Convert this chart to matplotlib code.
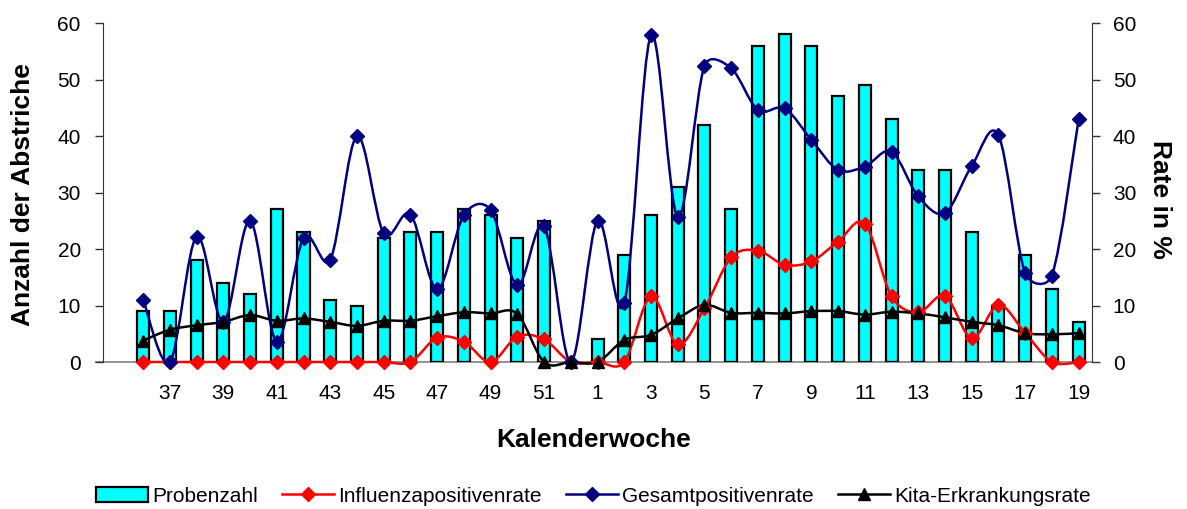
import matplotlib
matplotlib.use('Agg')
import matplotlib.pyplot as plt
from matplotlib.path import Path
from matplotlib.patches import PathPatch, Patch
from matplotlib.lines import Line2D
import numpy as np

plt.rcParams['font.family'] = ['Liberation Sans', 'DejaVu Sans']

# Kalenderwochen 36..52, 1..19
WEEKS = list(range(36, 53)) + list(range(1, 20))

# Anzahl der Abstriche (bars, left axis)
PROBENZAHL = [9, 9, 18, 14, 12, 27, 23, 11, 10, 22, 23, 23, 27, 26, 22, 25, 0,
              4, 19, 26, 31, 42, 27, 56, 58, 56, 47, 49, 43, 34, 34, 23, 10, 19, 13, 7]

# Rates in % (right axis)
INFLUENZA = [0, 0, 0, 0, 0, 0, 0, 0, 0, 0, 0, 4.3, 3.6, 0, 4.5, 4.0, 0,
             0, 0, 11.6, 3.1, 9.5, 18.5, 19.7, 17.2, 17.8, 21.3, 24.5, 11.6, 8.8, 11.7, 4.2, 10.1, 5.1, 0, 0]
GESAMT = [11.0, 0, 22.2, 7.1, 25.0, 3.6, 21.9, 18.1, 40.0, 22.8, 26.1, 12.9, 26.0, 26.9, 13.6, 24.0, 0,
          25.0, 10.4, 57.8, 25.7, 52.4, 52.0, 44.6, 44.9, 39.3, 34.0, 34.6, 37.2, 29.3, 26.4, 34.7, 40.1, 15.7, 15.3, 43.0]
KITA = [3.8, 5.7, 6.5, 7.1, 8.3, 7.3, 7.7, 7.1, 6.4, 7.3, 7.3, 8.1, 8.8, 8.6, 8.5, 0, 0,
        0, 3.9, 4.8, 7.7, 10.1, 8.7, 8.7, 8.6, 9.0, 9.0, 8.4, 8.9, 8.6, 7.9, 7.1, 6.5, 5.1, 4.9, 5.1]

CYAN = '#00FFFF'
RED = '#FF0000'
NAVY = '#000080'

AX_RECT = [0.0868, 0.2888, 0.8332, 0.666]
FIG_W, FIG_H = 1187, 509


def smooth_path(x, y, sx, sy, k=0.5):
    # Bezier path through the points, roughly like Excel's smoothed lines.
    # Control points worked out in pixel space, then mapped back to data.
    pts = np.column_stack([np.asarray(x) * sx, np.asarray(y) * sy]).astype(float)
    ext = np.vstack([pts[0], pts, pts[-1]])
    verts = [pts[0]]
    codes = [Path.MOVETO]
    for i in range(1, len(ext) - 2):
        p0, p1, p2, p3 = ext[i - 1], ext[i], ext[i + 1], ext[i + 2]
        chord = np.hypot(*(p2 - p1))
        t1 = p2 - p0
        t2 = p3 - p1
        n1 = np.hypot(*t1)
        n2 = np.hypot(*t2)
        c1 = p1 + t1 / n1 * min(k * chord, n1 / 6) if n1 > 0 else p1
        c2 = p2 - t2 / n2 * min(k * chord, n2 / 6) if n2 > 0 else p2
        verts += [c1, c2, p2]
        codes += [Path.CURVE4] * 3
    verts = np.array(verts) / [sx, sy]
    return Path(verts, codes)


fig = plt.figure(figsize=(FIG_W / 100, FIG_H / 100), dpi=100)
ax = fig.add_axes(AX_RECT)

x = np.arange(len(WEEKS))
ax.bar(x, PROBENZAHL, width=0.45, color=CYAN, edgecolor='black', linewidth=1.6, zorder=2)
ax.set_xlim(-1.5, len(WEEKS) - 0.5)
ax.set_ylim(0, 60)
ax.set_yticks(range(0, 61, 10))
ax.set_xticks(x[1::2])
ax.set_xticklabels([str(w) for w in WEEKS[1::2]])
ax.tick_params(axis='x', length=0, pad=16, labelsize=15)
ax.tick_params(axis='y', direction='out', length=6, width=1, labelsize=15, pad=10,
               color='#333333')
for s in ['top', 'right']:
    ax.spines[s].set_visible(False)
ax.spines['left'].set_color('#333333')
ax.spines['bottom'].set_color('#808080')
ax.spines['bottom'].set_linewidth(1.2)
ax.spines['bottom'].set_bounds(-1.75, len(WEEKS) - 0.5)
ax.spines['bottom'].set_zorder(1)

ax2 = ax.twinx()
ax2.set_ylim(0, 60)
ax2.set_yticks(range(0, 61, 10))
ax2.tick_params(axis='y', direction='out', length=6, width=1, labelsize=15, pad=9,
                color='#333333')
for s in ['top', 'left', 'bottom']:
    ax2.spines[s].set_visible(False)
ax2.spines['right'].set_color('#333333')

# pixels per data unit, for the curve smoothing
sx = AX_RECT[2] * FIG_W / (len(WEEKS) + 1)
sy = AX_RECT[3] * FIG_H / 60

series = [
    (INFLUENZA, RED, 'D', 7),
    (GESAMT, NAVY, 'D', 7),
    (KITA, 'black', '^', 8),
]
for vals, col, mk, ms in series:
    ax2.add_patch(PathPatch(smooth_path(x, vals, sx, sy), facecolor='none', edgecolor=col,
                            linewidth=1.8, clip_on=False, zorder=3))
    ax2.plot(x, vals, linestyle='none', marker=mk, markersize=ms, color=col,
             clip_on=False, zorder=4)

fig.text(23 / FIG_W, 1 - 195 / FIG_H, 'Anzahl der Abstriche', fontsize=19, fontweight='bold',
         rotation=90, ha='center', va='center')
fig.text(1160 / FIG_W, 1 - 199 / FIG_H, 'Rate in %', fontsize=19, fontweight='bold',
         rotation=270, ha='center', va='center')
fig.text(0.5, 1 - 440 / FIG_H, 'Kalenderwoche', fontsize=19, fontweight='bold',
         ha='center', va='center')

handles = [
    Patch(facecolor=CYAN, edgecolor='black', linewidth=1.6),
    Line2D([], [], color=RED, marker='D', markersize=7, linewidth=1.8),
    Line2D([], [], color=NAVY, marker='D', markersize=7, linewidth=1.8),
    Line2D([], [], color='black', marker='^', markersize=8, linewidth=1.8),
]
labels = ['Probenzahl', 'Influenzapositivenrate', 'Gesamtpositivenrate', 'Kita-Erkrankungsrate']
fig.legend(handles, labels, loc='center', bbox_to_anchor=(0.5, 1 - 496 / FIG_H), ncol=4,
           frameon=False, fontsize=15, handlelength=2.5, handletextpad=0.2,
           columnspacing=1.15, handleheight=0.7)

fig.savefig('out.png', dpi=100)
